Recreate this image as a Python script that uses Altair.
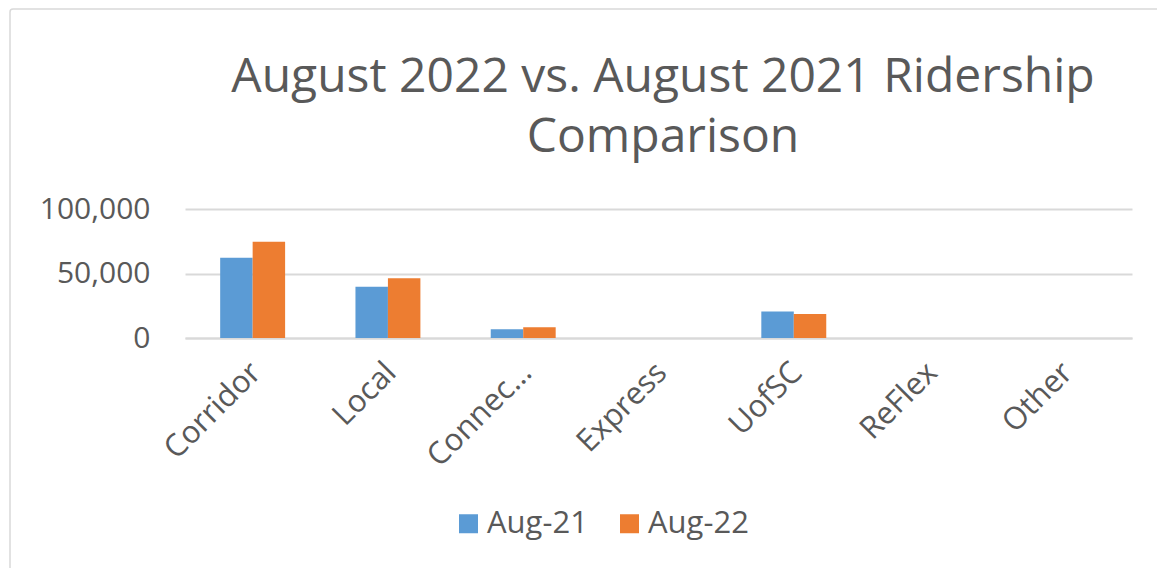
import altair as alt
import pandas as pd

categories = ["Corridor", "Local", "Connector", "Express", "UofSC", "ReFlex", "Other"]
aug21 = [62200, 39700, 6800, 0, 20500, 0, 0]
aug22 = [74700, 46400, 8300, 0, 18700, 0, 0]
series = ["Aug-21", "Aug-22"]
colors = ["#5B9BD5", "#ED7D31"]
title_text = "August 2022 vs. August 2021 Ridership\nComparison"

rows = []
for c, a, b in zip(categories, aug21, aug22):
    rows.append({"cat": c, "series": series[0], "value": a})
    rows.append({"cat": c, "series": series[1], "value": b})
df = pd.DataFrame(rows)

FONT = "Open Sans"
TXT = "#595959"
GRID = "#D9D9D9"

bars = alt.Chart(df).mark_bar().encode(
    x=alt.X("cat:N", sort=categories,
            scale=alt.Scale(paddingInner=0.52, paddingOuter=0.26),
            axis=alt.Axis(title=None, labelAngle=-45, labelFontSize=31, labelColor=TXT,
                          labelFont=FONT, ticks=False, tickSize=0, domainColor=GRID,
                          domainWidth=2, labelPadding=19, labelOffset=-7, grid=False,
                          labelExpr="datum.value == 'Connector' ? 'Connec…' : datum.value")),
    xOffset=alt.XOffset("series:N", sort=series, scale=alt.Scale(paddingInner=0, paddingOuter=0)),
    y=alt.Y("value:Q", scale=alt.Scale(domain=[0, 100000], nice=False),
            axis=alt.Axis(title=None, values=[0, 50000, 100000], format=",d",
                          labelFontSize=30, labelColor=TXT, labelFont=FONT,
                          ticks=False, tickSize=0, domain=False, labelPadding=35,
                          gridColor=GRID, gridWidth=2)),
    color=alt.Color("series:N", sort=series,
                    scale=alt.Scale(domain=series, range=colors),
                    legend=alt.Legend(title=None, orient="none", direction="horizontal",
                                      legendX=268, legendY=299,
                                      symbolType="square", symbolSize=361,
                                      symbolStrokeWidth=0, labelFontSize=31,
                                      labelFont=FONT, labelColor=TXT,
                                      labelOffset=3, columnPadding=26)),
)

border = alt.Chart(alt.Data(values=[{}])).mark_rect(
    fill=None, stroke=GRID, strokeWidth=1.5, cornerRadius=3
).encode(
    x=alt.value(-175), x2=alt.value(975), y=alt.value(-200), y2=alt.value(365)
)

title = alt.Chart(alt.Data(values=[{}])).mark_text(
    font=FONT, fontSize=48, color=TXT, align="center", baseline="alphabetic",
    lineBreak="\n", lineHeight=60
).encode(
    x=alt.value(478), y=alt.value(-117), text=alt.value(title_text)
)

chart = alt.layer(border, title, bars).properties(
    width=947, height=129,
    padding={"left": 177, "top": 201, "right": 25, "bottom": 230},
    autosize=alt.AutoSizeParams(type="none"),
).configure_view(stroke=None)

chart.save("out.html", embed_options={"renderer": "svg", "actions": False})
